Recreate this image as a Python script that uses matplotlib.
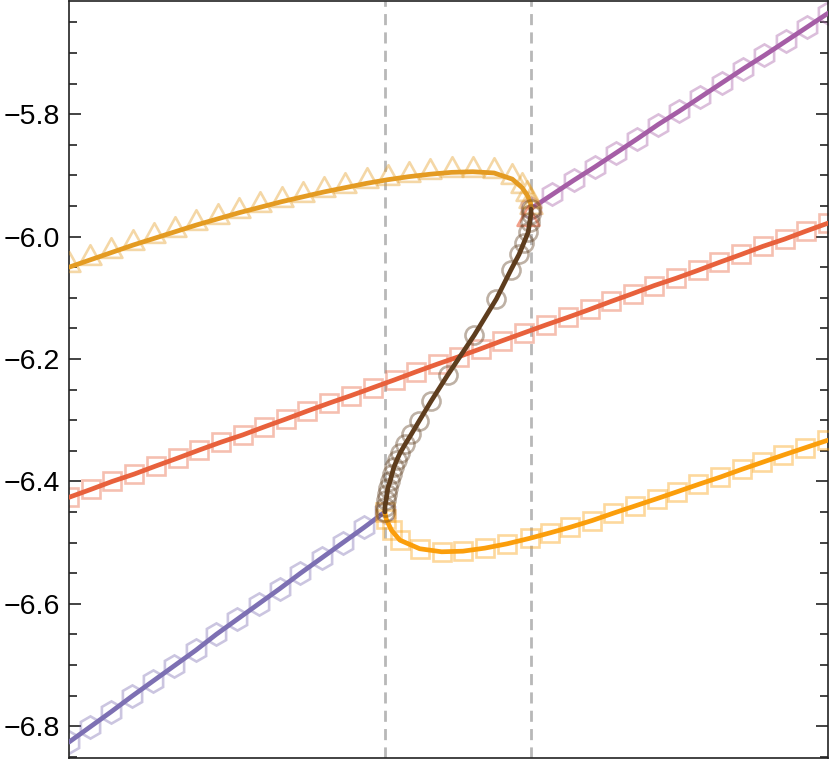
import numpy as np
import matplotlib
matplotlib.use("Agg")
import matplotlib.pyplot as plt
from matplotlib.path import Path
from matplotlib.ticker import MultipleLocator


# dashed guides (spinodal positions)
spinodal_x = [0.4163, 0.6087]

# lower stable branch (hexagons)
lower_x = [0.000, 0.028, 0.056, 0.083, 0.111, 0.139, 0.167, 0.194,
           0.222, 0.250, 0.278, 0.305, 0.333, 0.361, 0.389, 0.416]
lower_y = [-6.826, -6.801, -6.776, -6.751, -6.726, -6.701, -6.676, -6.650,
           -6.625, -6.600, -6.575, -6.550, -6.525, -6.500, -6.475, -6.450]

# upper stable branch (hexagons)
upper_x = [0.609, 0.637, 0.665, 0.693, 0.721, 0.749, 0.776, 0.804,
           0.832, 0.860, 0.888, 0.916, 0.944, 0.972, 1.000]
upper_y = [-5.954, -5.931, -5.908, -5.886, -5.863, -5.840, -5.817, -5.795,
           -5.772, -5.749, -5.726, -5.704, -5.681, -5.658, -5.635]

# reference line (squares)
ref_x = [0.000, 0.029, 0.057, 0.086, 0.114, 0.143, 0.171, 0.200, 0.229,
         0.257, 0.286, 0.314, 0.343, 0.371, 0.400, 0.429, 0.457, 0.486,
         0.514, 0.543, 0.571, 0.600, 0.629, 0.657, 0.686, 0.714, 0.743,
         0.771, 0.800, 0.829, 0.857, 0.886, 0.914, 0.943, 0.971, 1.000]
ref_y = [-6.426, -6.413, -6.400, -6.388, -6.375, -6.362, -6.349, -6.336,
         -6.324, -6.311, -6.298, -6.285, -6.272, -6.260, -6.247, -6.234,
         -6.221, -6.208, -6.196, -6.183, -6.170, -6.157, -6.144, -6.132,
         -6.119, -6.106, -6.093, -6.080, -6.068, -6.055, -6.042, -6.029,
         -6.016, -6.004, -5.991, -5.978]

# metastable branch from the left (triangles)
meta_up_x = [0.000, 0.028, 0.056, 0.084, 0.112, 0.140, 0.168, 0.196, 0.224,
             0.252, 0.280, 0.308, 0.336, 0.364, 0.392, 0.420, 0.448, 0.476,
             0.504, 0.532, 0.560, 0.584, 0.597, 0.604, 0.608, 0.609]
meta_up_y = [-6.050, -6.038, -6.026, -6.014, -6.003, -5.992, -5.981, -5.971,
             -5.961, -5.952, -5.943, -5.935, -5.927, -5.920, -5.913, -5.907,
             -5.902, -5.898, -5.895, -5.894, -5.896, -5.906, -5.920, -5.933,
             -5.945, -5.955]

# metastable branch to the right (squares)
meta_lo_x = [0.416, 0.418, 0.425, 0.436, 0.462, 0.491, 0.519, 0.548, 0.577,
             0.607, 0.634, 0.660, 0.689, 0.717, 0.746, 0.775, 0.801, 0.829,
             0.858, 0.887, 0.913, 0.941, 0.970, 0.999]
meta_lo_y = [-6.450, -6.462, -6.480, -6.496, -6.510, -6.515, -6.514, -6.509,
             -6.502, -6.493, -6.484, -6.475, -6.464, -6.452, -6.440, -6.428,
             -6.417, -6.405, -6.393, -6.380, -6.369, -6.357, -6.345, -6.333]

# unstable branch joining the spinodals (circles)
unstable_x = [0.4163, 0.4163, 0.4177, 0.419, 0.420, 0.423, 0.4256, 0.428,
              0.432, 0.436, 0.443, 0.451, 0.461, 0.477, 0.499, 0.534, 0.563,
              0.582, 0.593, 0.599, 0.605, 0.607, 0.6087, 0.6087]
unstable_y = [-6.450, -6.441, -6.431, -6.421, -6.411, -6.400, -6.388, -6.377,
              -6.365, -6.354, -6.339, -6.323, -6.302, -6.269, -6.226, -6.161,
              -6.102, -6.055, -6.029, -6.011, -5.993, -5.976, -5.963, -5.955]

# stray marker at the upper junction
stray_x = [0.605]
stray_y = [-5.975]

yticks = [-6.8, -6.6, -6.4, -6.2, -6.0, -5.8]

# triangle sitting above its data point, like the original markers
tri_marker = Path([(-10, -4), (10, -4), (0, 14), (-10, -4)],
                  [Path.MOVETO, Path.LINETO, Path.LINETO, Path.CLOSEPOLY])


def add_series(ax, x, y, color, marker, msize, z):
    ax.plot(x, y, linestyle="none", marker=marker, markersize=msize,
            markerfacecolor="none", markeredgecolor=color, alpha=0.4,
            markeredgewidth=1.9, zorder=z)
    ax.plot(x, y, color=color, linewidth=3.4, solid_capstyle="round",
            solid_joinstyle="round", zorder=z + 1)


def main():
    plt.rcParams["font.family"] = ["Liberation Sans", "DejaVu Sans"]

    fig = plt.figure(figsize=(8.3, 7.61), dpi=100)
    ax = fig.add_axes([0.0831, 0.0039, 0.9145, 0.9948])

    for xv in spinodal_x:
        ax.axvline(xv, color="#b8b8b8", linewidth=2.0,
                   linestyle=(0, (4.0, 2.6)), zorder=1)

    add_series(ax, lower_x, lower_y, "#7d70b3", "h", 16, 2)
    add_series(ax, upper_x, upper_y, "#a55ea6", "h", 16, 2)
    add_series(ax, ref_x, ref_y, "#e8613c", "s", 13.5, 2)
    add_series(ax, meta_lo_x, meta_lo_y, "#fb9e0b", "s", 13.5, 4)
    add_series(ax, meta_up_x, meta_up_y, "#e49b22", tri_marker, 22, 4)
    ax.plot(stray_x, stray_y, linestyle="none", marker=tri_marker,
            markersize=22, markerfacecolor="none", markeredgecolor="#e8613c",
            alpha=0.6, markeredgewidth=1.9, zorder=6)
    add_series(ax, unstable_x, unstable_y, "#5e3d1e", "o", 13, 6)

    ax.set_xlim(0.0, 1.0)
    ax.set_ylim(-6.852, -5.615)

    ax.set_xticks([])
    ax.set_yticks(yticks)
    ax.set_yticklabels([f"{v:.1f}".replace("-", "\u2212") for v in yticks])
    ax.yaxis.set_minor_locator(MultipleLocator(0.05))
    ax.tick_params(axis="y", which="both", direction="in", left=True,
                   right=True, width=1.2, color="#222222", labelsize=20.5,
                   pad=6.5)
    ax.tick_params(axis="y", which="major", length=8.5)
    ax.tick_params(axis="y", which="minor", length=5.5)

    for spine in ax.spines.values():
        spine.set_color("#222222")
        spine.set_linewidth(1.2)

    fig.savefig("out.png", dpi=100)
    plt.close(fig)


if __name__ == "__main__":
    main()
